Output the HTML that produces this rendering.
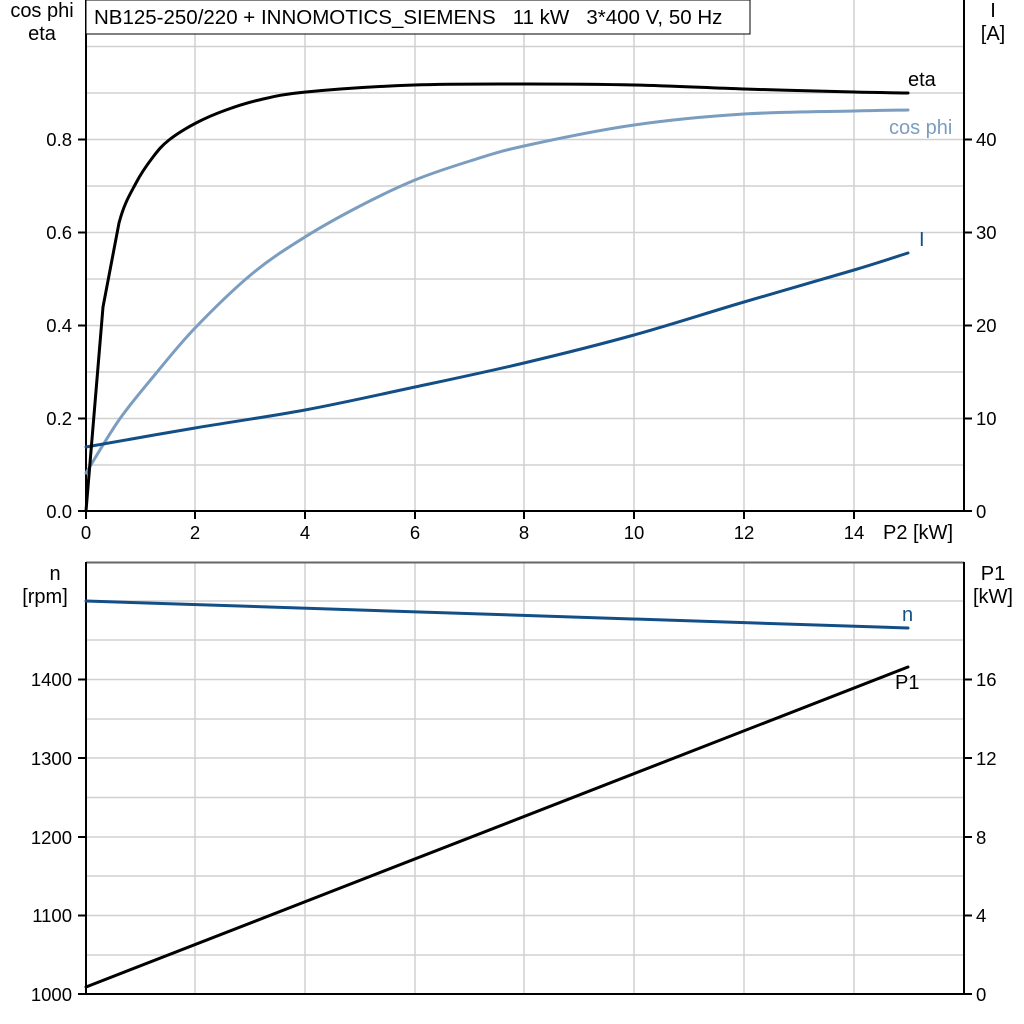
<!DOCTYPE html>
<html><head><meta charset="utf-8"><style>
html,body{margin:0;padding:0;background:#fff;}
svg{display:block;font-family:"Liberation Sans",Arial,sans-serif;}
</style></head><body>
<svg width="1024" height="1024" viewBox="0 0 1024 1024" xmlns="http://www.w3.org/2000/svg">
<rect width="1024" height="1024" fill="#fff"/>
<g stroke="#d0d0d0" stroke-width="1.5">
<line x1="195" y1="0" x2="195" y2="511"/><line x1="305" y1="0" x2="305" y2="511"/><line x1="415" y1="0" x2="415" y2="511"/><line x1="524" y1="0" x2="524" y2="511"/><line x1="634" y1="0" x2="634" y2="511"/><line x1="744" y1="0" x2="744" y2="511"/><line x1="854" y1="0" x2="854" y2="511"/>
<line x1="86" y1="46.5" x2="964" y2="46.5"/><line x1="86" y1="93" x2="964" y2="93"/><line x1="86" y1="139.5" x2="964" y2="139.5"/><line x1="86" y1="186" x2="964" y2="186"/><line x1="86" y1="232.5" x2="964" y2="232.5"/><line x1="86" y1="279" x2="964" y2="279"/><line x1="86" y1="325.5" x2="964" y2="325.5"/><line x1="86" y1="372" x2="964" y2="372"/><line x1="86" y1="418.5" x2="964" y2="418.5"/><line x1="86" y1="465" x2="964" y2="465"/>
<line x1="195" y1="562" x2="195" y2="994"/><line x1="305" y1="562" x2="305" y2="994"/><line x1="415" y1="562" x2="415" y2="994"/><line x1="524" y1="562" x2="524" y2="994"/><line x1="634" y1="562" x2="634" y2="994"/><line x1="744" y1="562" x2="744" y2="994"/><line x1="854" y1="562" x2="854" y2="994"/>
<line x1="86" y1="601" x2="964" y2="601"/><line x1="86" y1="640" x2="964" y2="640"/><line x1="86" y1="679.5" x2="964" y2="679.5"/><line x1="86" y1="719" x2="964" y2="719"/><line x1="86" y1="758" x2="964" y2="758"/><line x1="86" y1="797.5" x2="964" y2="797.5"/><line x1="86" y1="837" x2="964" y2="837"/><line x1="86" y1="876" x2="964" y2="876"/><line x1="86" y1="915.5" x2="964" y2="915.5"/><line x1="86" y1="955" x2="964" y2="955"/>
</g>
<line x1="86" y1="562.5" x2="964" y2="562.5" stroke="#666" stroke-width="2"/>
<g stroke="#000" stroke-width="2" fill="none">
<line x1="86" y1="0" x2="86" y2="512"/><line x1="964" y1="0" x2="964" y2="512"/><line x1="85" y1="511" x2="965" y2="511"/>
<line x1="86" y1="562" x2="86" y2="995"/><line x1="964" y1="562" x2="964" y2="995"/><line x1="85" y1="994" x2="965" y2="994"/>
<path d="M78 139.5H86M78 232.5H86M78 325.5H86M78 418.5H86M78 511H86M964 139.5H972M964 232.5H972M964 325.5H972M964 418.5H972M964 511H972M86 511V519M195 511V519M305 511V519M415 511V519M524 511V519M634 511V519M744 511V519M854 511V519"/>
<path d="M78 679.5H86M78 758H86M78 837H86M78 915.5H86M78 994H86M964 679.5H972M964 758H972M964 837H972M964 915.5H972M964 994H972"/>
</g>
<rect x="86" y="0" width="664" height="34" fill="#fff" stroke="#000" stroke-width="1"/>
<text x="94" y="24" font-size="20.5" xml:space="preserve" style="white-space:pre">NB125-250/220 + INNOMOTICS_SIEMENS   11 kW   3*400 V, 50 Hz</text>
<g font-size="20" text-anchor="middle">
<text x="42" y="17">cos phi</text><text x="42" y="40">eta</text>
<text x="993" y="17">I</text><text x="993" y="40">[A]</text>
<text x="55" y="580">n</text><text x="45" y="603">[rpm]</text>
<text x="993" y="580">P1</text><text x="993" y="603">[kW]</text>
</g>
<g font-size="18.5" text-anchor="end">
<text x="72" y="146">0.8</text><text x="72" y="239">0.6</text><text x="72" y="332">0.4</text><text x="72" y="425">0.2</text><text x="72" y="518">0.0</text>
<text x="72" y="686">1400</text><text x="72" y="765">1300</text><text x="72" y="844">1200</text><text x="72" y="922">1100</text><text x="72" y="1001">1000</text>
</g>
<g font-size="18.5" text-anchor="start">
<text x="976" y="146">40</text><text x="976" y="239">30</text><text x="976" y="332">20</text><text x="976" y="425">10</text><text x="976" y="518">0</text>
<text x="976" y="686">16</text><text x="976" y="765">12</text><text x="976" y="844">8</text><text x="976" y="922">4</text><text x="976" y="1001">0</text>
</g>
<g font-size="18.5" text-anchor="middle">
<text x="86" y="539">0</text><text x="195" y="539">2</text><text x="305" y="539">4</text><text x="415" y="539">6</text><text x="524" y="539">8</text><text x="634" y="539">10</text><text x="744" y="539">12</text><text x="854" y="539">14</text>
</g>
<text x="918" y="539" font-size="20" text-anchor="middle">P2 [kW]</text>
<g fill="none" stroke-width="3" stroke-linejoin="round" stroke-linecap="round">
<path id="cos" stroke="#7b9dbf" d="M86 473 L119 420 L153 377 L196 327 L253 273 L305 237 L360 206 L415 180 L470 161 L524 146 L634 125 L744 114 L854 111 L908 110"/>
<path id="cur" stroke="#134f86" d="M86 447 L195 428 L305 410 L415 387 L524 363 L634 335 L744 302 L854 270 L908 253"/>
<path id="eta" stroke="#000" d="M86 511 L103 307 L119 223 L136 183 L153 157 L169 140 L196 123 L226 110 L259 100 L306 92 L414 85 L526 84 L634 85 L744 89 L854 92 L908 93"/>
<path stroke="#134f86" d="M86 601 L908 628"/>
<path stroke="#000" d="M86 987 L908 667"/>
</g>
<g font-size="20">
<text x="908" y="86">eta</text>
<text x="889" y="134" fill="#7b9dbf">cos phi</text>
<text x="919" y="246" fill="#134f86">I</text>
<text x="902" y="621" fill="#134f86">n</text>
<text x="895" y="689">P1</text>
</g>
</svg>
<script>
(function(){
function smooth(id,skipFirst){
 var el=document.getElementById(id);
 var p=el.getAttribute('d').replace(/[ML]/g,' ').trim().split(/\s+/).map(Number);
 var pts=[];for(var i=0;i<p.length;i+=2)pts.push([p[i],p[i+1]]);
 var d='M'+pts[0][0]+' '+pts[0][1];
 for(var i=0;i<pts.length-1;i++){
  if(i<skipFirst){d+=' L'+pts[i+1][0]+' '+pts[i+1][1];continue;}
  var p0=pts[Math.max(0,i-1)],p1=pts[i],p2=pts[i+1],p3=pts[Math.min(pts.length-1,i+2)];
  var c1=[p1[0]+(p2[0]-p0[0])/6,p1[1]+(p2[1]-p0[1])/6];
  var c2=[p2[0]-(p3[0]-p1[0])/6,p2[1]-(p3[1]-p1[1])/6];
  d+=' C'+c1[0].toFixed(1)+' '+c1[1].toFixed(1)+' '+c2[0].toFixed(1)+' '+c2[1].toFixed(1)+' '+p2[0]+' '+p2[1];
 }
 el.setAttribute('d',d);
}
smooth('cos',0);smooth('cur',0);smooth('eta',2);
})();
</script>
</body></html>
